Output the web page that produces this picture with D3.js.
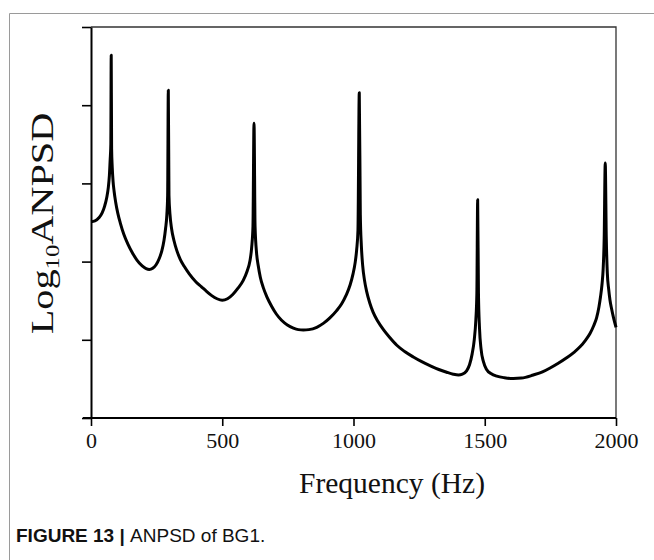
<!DOCTYPE html>
<html>
<head>
<meta charset="utf-8">
<script src="https://cdn.jsdelivr.net/npm/d3@7"></script>
<style>
  body { margin: 0; background: #fff; }
  svg { display: block; }
</style>
</head>
<body>
<div id="main"></div>
<script>
// ANPSD spectrum of BG1
var frequencies = [
    0, 15, 30, 42, 52, 60, 66, 70, 73, 75.5,
    77, 78.5, 81, 84, 88, 94, 102, 112, 125, 141,
    158, 175, 195, 210, 222, 235, 248, 260, 270, 278,
    284, 289, 292, 294.5, 297, 301, 307, 316, 327, 340,
    355, 375, 400, 420, 440, 460, 480, 500, 520, 540,
    560, 580, 595, 605, 612, 617, 621, 625, 631, 637,
    645, 656, 670, 688, 706, 726, 748, 771, 790, 809,
    830, 860, 885, 910, 935, 955, 972, 987, 998, 1006,
    1012, 1017, 1022, 1026, 1030, 1035, 1042, 1050, 1062, 1075,
    1092, 1114, 1138, 1165, 1195, 1228, 1260, 1291, 1325, 1355,
    1380, 1400, 1415, 1430, 1442, 1452, 1460, 1466, 1470, 1473,
    1476, 1480, 1486, 1495, 1507, 1525, 1546, 1575, 1609, 1640,
    1685, 1720, 1749, 1780, 1812, 1840, 1863, 1885, 1901, 1915,
    1926, 1935, 1941, 1947, 1951, 1955, 1959, 1963, 1967, 1972,
    1977, 1983, 1990, 2000];
var logAnpsd = [
    2.51, 2.52, 2.56, 2.62, 2.71, 2.82, 2.95, 3.10, 3.30, 3.50,
    4.64, 3.45, 3.20, 3.03, 2.90, 2.76, 2.62, 2.49, 2.35, 2.22,
    2.11, 2.02, 1.945, 1.91, 1.90, 1.915, 1.96, 2.04, 2.14, 2.27,
    2.42, 2.60, 2.85, 4.19, 2.85, 2.60, 2.42, 2.27, 2.14, 2.03,
    1.94, 1.84, 1.74, 1.68, 1.62, 1.565, 1.525, 1.505, 1.525, 1.58,
    1.66, 1.76, 1.88, 2.00, 2.18, 2.45, 3.77, 2.45, 2.10, 1.95,
    1.80, 1.67, 1.55, 1.43, 1.33, 1.25, 1.19, 1.15, 1.13, 1.125,
    1.13, 1.16, 1.21, 1.28, 1.37, 1.46, 1.57, 1.70, 1.84, 1.98,
    2.15, 2.40, 4.16, 2.60, 2.20, 1.95, 1.76, 1.62, 1.47, 1.35,
    1.24, 1.13, 1.03, 0.93, 0.85, 0.78, 0.72, 0.67, 0.62, 0.585,
    0.56, 0.55, 0.56, 0.60, 0.68, 0.82, 1.00, 1.25, 1.60, 2.79,
    1.60, 1.15, 0.88, 0.72, 0.62, 0.565, 0.535, 0.515, 0.505, 0.51,
    0.55, 0.59, 0.64, 0.70, 0.77, 0.84, 0.91, 1.00, 1.08, 1.18,
    1.28, 1.42, 1.55, 1.72, 1.90, 2.30, 3.26, 2.30, 1.85, 1.65,
    1.51, 1.40, 1.29, 1.16];

var xTicks = [0, 500, 1000, 1500, 2000];
var yTicks = [0, 1, 2, 3, 4, 5];

var W = 654, H = 560;
var margin = { top: 27, right: 38, bottom: 142, left: 91 };
var width = W - margin.left - margin.right,
    height = H - margin.top - margin.bottom;

var svg = d3.select("#main").append("svg")
    .attr("width", W)
    .attr("height", H);

// outer figure frame (top + left only)
svg.append("path")
    .attr("d", "M9.5," + H + "V13.5H" + W)
    .attr("fill", "none")
    .attr("stroke", "#9a9a9a")
    .attr("stroke-width", 1);

var g = svg.append("g")
    .attr("transform", "translate(" + margin.left + "," + margin.top + ")");

var x = d3.scaleLinear().domain([0, 2000]).range([0, width]);
var y = d3.scaleLinear().domain([0, 5]).range([height, 0]);

// top + right box lines
g.append("path")
    .attr("d", "M0,0H" + width + "V" + height)
    .attr("fill", "none")
    .attr("stroke", "#333")
    .attr("stroke-width", 1.3);

var xAxis = d3.axisBottom(x).tickValues(xTicks).tickSize(8).tickSizeOuter(0)
    .tickFormat(d3.format("d"));
var yAxis = d3.axisLeft(y).tickValues(yTicks).tickSize(9).tickSizeOuter(0).tickFormat("");

var xg = g.append("g")
    .attr("transform", "translate(0," + height + ")")
    .call(xAxis);
xg.select(".domain").attr("d", "M-8,0H" + width).attr("stroke-width", 2);
xg.selectAll(".tick line").attr("stroke-width", 1.6);
xg.selectAll(".tick text")
    .attr("y", 30)
    .attr("dy", 0)
    .attr("font-family", "'Liberation Serif', 'Times New Roman', serif")
    .attr("font-size", 22)
    .attr("fill", "#111");

var yg = g.append("g").call(yAxis);
yg.select(".domain").attr("stroke-width", 2);
yg.selectAll(".tick line").attr("stroke-width", 1.6);

// spectrum
var line = d3.line()
    .x(function (d, i) { return x(frequencies[i]); })
    .y(function (d) { return y(d); })
    .curve(d3.curveMonotoneX);

g.append("path")
    .datum(logAnpsd)
    .attr("d", line)
    .attr("fill", "none")
    .attr("stroke", "#000")
    .attr("stroke-width", 3)
    .attr("stroke-linejoin", "round");

// axis titles
svg.append("text")
    .attr("x", 392)
    .attr("y", 493)
    .attr("text-anchor", "middle")
    .attr("font-family", "'Liberation Serif', 'Times New Roman', serif")
    .attr("font-size", 29.5)
    .attr("fill", "#111")
    .text("Frequency (Hz)");

var yTitle = svg.append("text")
    .attr("transform", "translate(53," + (margin.top + height / 2 + 1) + ") rotate(-90) scale(1.3,1)")
    .attr("text-anchor", "middle")
    .attr("font-family", "'Liberation Serif', 'Times New Roman', serif")
    .attr("font-size", 31)
    .attr("fill", "#111");
yTitle.append("tspan").text("Log");
yTitle.append("tspan").attr("font-size", 19).attr("dy", 6).text("10");
yTitle.append("tspan").attr("dy", -6).text("ANPSD");

// caption
var cap = svg.append("text")
    .attr("x", 16)
    .attr("y", 542)
    .attr("font-family", "'Liberation Sans', Arial, sans-serif")
    .attr("font-size", 19)
    .attr("fill", "#111");
cap.append("tspan").attr("font-weight", "bold").text("FIGURE 13 | ");
cap.append("tspan").text("ANPSD of BG1.");
</script>
</body>
</html>
